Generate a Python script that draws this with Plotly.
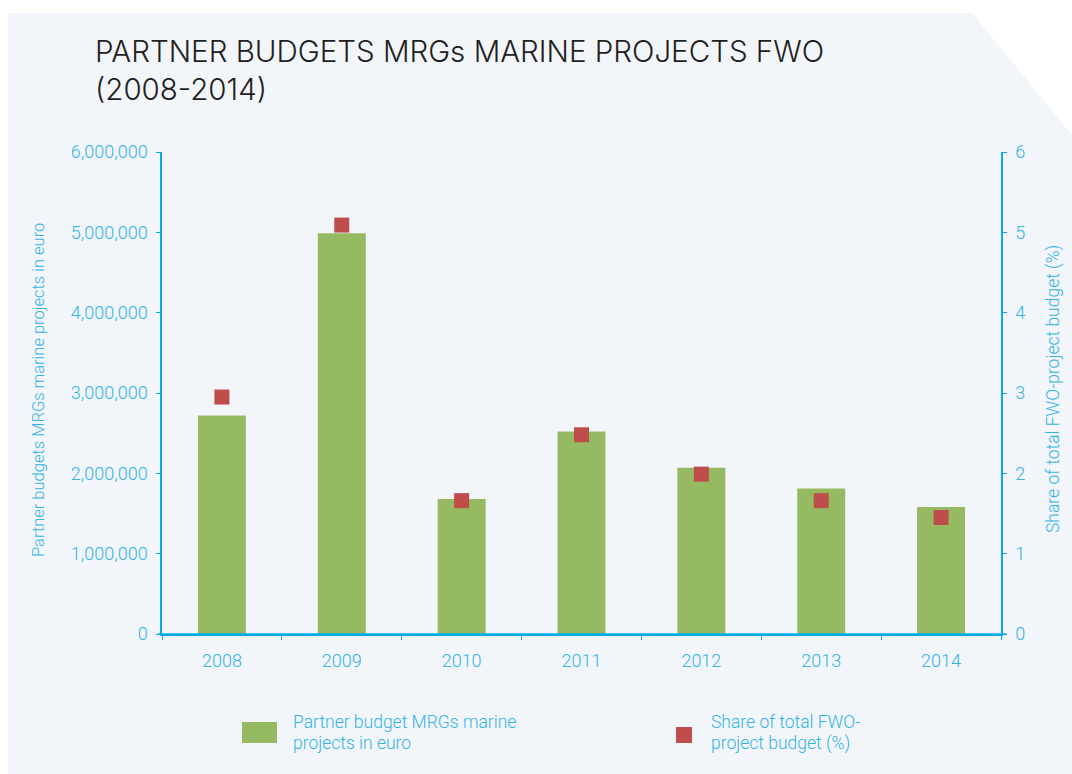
import plotly.graph_objects as go

years = ["2008", "2009", "2010", "2011", "2012", "2013", "2014"]
budget_eur = [2720000, 4990000, 1680000, 2520000, 2070000, 1810000, 1580000]
share_pct = [2.95, 5.09, 1.66, 2.48, 1.99, 1.66, 1.45]

left_ticks = [0, 1000000, 2000000, 3000000, 4000000, 5000000, 6000000]
left_labels = ["0", "1,000,000", "2,000,000", "3,000,000", "4,000,000", "5,000,000", "6,000,000"]
right_ticks = [0, 1, 2, 3, 4, 5, 6]

W, H = 1072, 774
ML, MR, MT, MB = 162, 71, 152, 140
PW, PH = W - ML - MR, H - MT - MB

def px(x):
    return (x - ML) / PW

def py(y):
    return (H - MB - y) / PH

AXIS = "#0AABE6"
TXT = "#33B4E6"
BAR = "#95BA62"
MARK = "#BF4D49"
BG = "#F2F5FA"
FONT = "Roboto, Liberation Sans, Arial, sans-serif"
TFONT = "Inter, Liberation Sans, Arial, sans-serif"
WT = 300

fig = go.Figure()
fig.add_trace(go.Bar(x=years, y=budget_eur, marker=dict(color=BAR, line=dict(width=0)),
                     width=0.4, name="Partner budget MRGs marine projects in euro",
                     showlegend=False, yaxis="y"))
fig.add_trace(go.Scatter(x=years, y=share_pct, mode="markers",
                         marker=dict(symbol="square", size=15, color=MARK),
                         name="Share of total FWO-project budget (%)",
                         showlegend=False, yaxis="y2"))

# background panel with cut corner
path = "M {} {} L {} {} L {} {} L {} {} L {} {} Z".format(
    px(8), py(13), px(972), py(13), px(1072), py(135), px(1072), py(774), px(8), py(774))
shapes = [dict(type="path", path=path, xref="paper", yref="paper",
               fillcolor=BG, line=dict(width=0), layer="below")]
# small extensions of the x axis line past both y axes
shapes.append(dict(type="line", xref="paper", yref="paper", x0=px(158), x1=px(1006),
                   y0=0, y1=0, line=dict(color=AXIS, width=1.5)))
# legend swatches
shapes.append(dict(type="rect", xref="paper", yref="paper",
                   x0=px(242), x1=px(277), y0=py(743), y1=py(722),
                   fillcolor=BAR, line=dict(width=0)))
shapes.append(dict(type="rect", xref="paper", yref="paper",
                   x0=px(676), x1=px(692), y0=py(743), y1=py(727),
                   fillcolor=MARK, line=dict(width=0)))

def ann(text, x, y, size, angle=0, xanchor="left", yanchor="middle"):
    return dict(text=text, textangle=angle, xref="paper", yref="paper", x=px(x), y=py(y),
                showarrow=False, xanchor=xanchor, yanchor=yanchor,
                font=dict(family=FONT, size=size, color=TXT, weight=WT))

annotations = [
    ann("Partner budgets MRGs marine projects in euro", 38, 390, 16.5, -90, "center"),
    ann("Share of total FWO-project budget (%)", 1053, 389, 17.5, -90, "center"),
    ann("Partner budget MRGs marine", 291, 722, 17.5),
    ann("projects in euro", 291, 743, 17.5),
    ann("Share of total FWO-", 709, 722, 17.5),
    ann("project budget (%)", 709, 743, 17.5),
]

fig.update_layout(
    width=W, height=H,
    margin=dict(l=ML, r=MR, t=MT, b=MB, autoexpand=False),
    paper_bgcolor="white", plot_bgcolor="rgba(0,0,0,0)",
    title=dict(text="PARTNER BUDGETS MRGs MARINE PROJECTS FWO<br>(2008-2014)",
               xref="container", yref="container", x=95 / W, y=1 - 62 / H,
               xanchor="left", yanchor="top",
               font=dict(family=TFONT, size=29.5, color="#231F20", weight=WT)),
    font=dict(family=FONT, size=18, color=TXT, weight=WT),
    xaxis=dict(showline=True, linecolor=AXIS, linewidth=1.5, ticks="outside",
               tickson="boundaries", ticklen=4, tickcolor=AXIS, showgrid=False,
               tickfont=dict(family=FONT, size=18, color=TXT, weight=WT), zeroline=False,
               ticklabelstandoff=10),
    yaxis=dict(range=[0, 6000000], tickvals=left_ticks, ticktext=left_labels,
               showline=True, linecolor=AXIS, linewidth=1.5, ticks="outside",
               ticklen=4, tickcolor=AXIS, showgrid=False, zeroline=False,
               tickfont=dict(family=FONT, size=18, color=TXT, weight=WT), ticklabelstandoff=5),
    yaxis2=dict(range=[0, 6], tickvals=right_ticks, overlaying="y", side="right",
                showline=True, linecolor=AXIS, linewidth=1.5, ticks="outside",
                ticklen=4, tickcolor=AXIS, showgrid=False, zeroline=False,
                tickfont=dict(family=FONT, size=18, color=TXT, weight=WT), ticklabelstandoff=5),
    shapes=shapes, annotations=annotations, showlegend=False,
)

fig.write_html("out.html", config={"displayModeBar": False},
               post_script="document.body.style.margin='0';")
